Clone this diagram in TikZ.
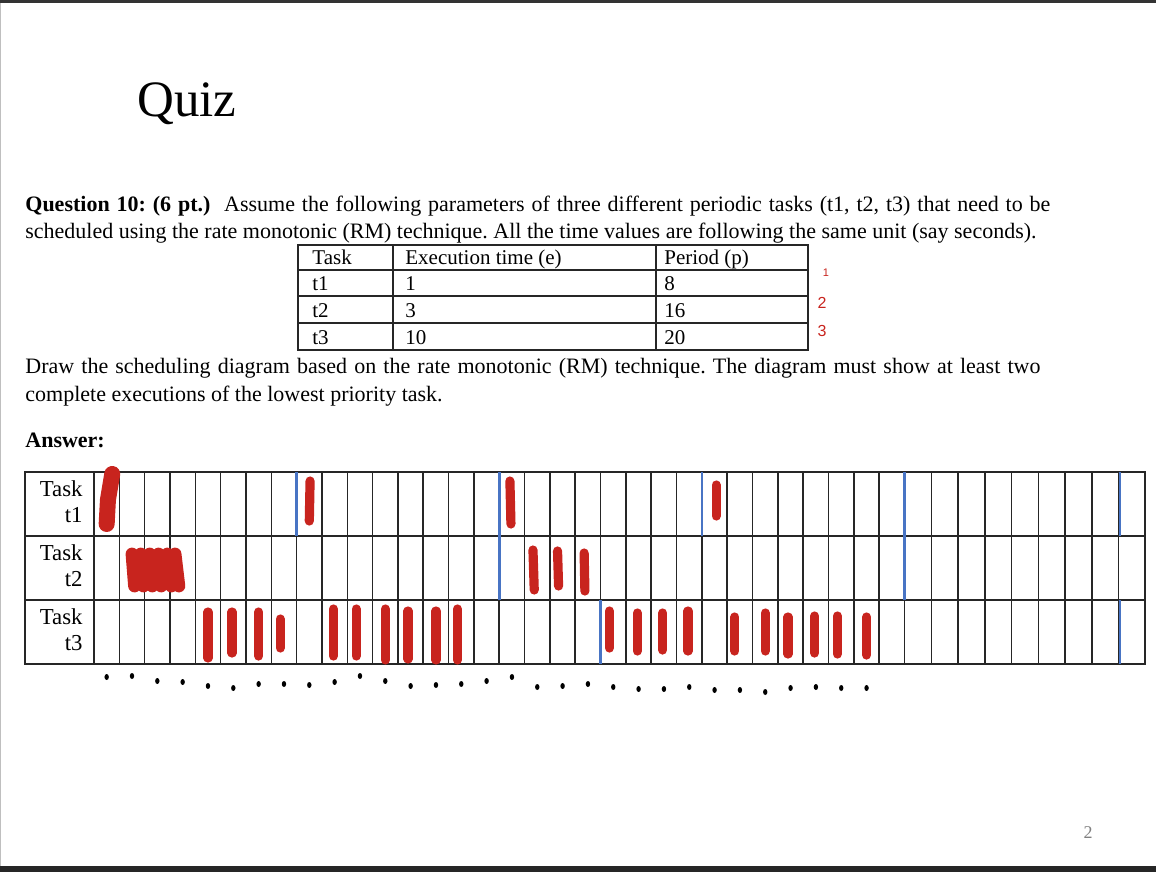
\documentclass[tikz,border=0pt]{standalone}
\usepackage{fontspec}
\setmainfont{Liberation Serif}
\newfontfamily\handfont{Liberation Sans}
\definecolor{inkred}{RGB}{200,36,30}
\definecolor{deadblue}{RGB}{72,116,196}
\frenchspacing

\begin{document}
\begin{tikzpicture}[
  x=0.5pt, y=-0.5pt,
  txt/.style={anchor=base west, inner sep=0pt, font=\fontsize{11}{13}\selectfont},
  cell/.style={anchor=base west, inner sep=0pt, font=\fontsize{10.5}{13}\selectfont},
  rowlbl/.style={anchor=east, align=right, inner sep=0pt, font=\fontsize{11.4}{13}\selectfont},
  prio/.style={anchor=base, inner sep=0pt, text=inkred, font=\handfont\fontsize{8}{9}\selectfont},
  gridline/.style={line width=0.8pt, draw=black!85},
  deadline/.style={line width=1.3pt, draw=deadblue},
  run/.style={line width=4.6pt, draw=inkred, line cap=round},
]
  \useasboundingbox (0,0) rectangle (1156,872);

  % Slide frame
  \fill[black!80] (0,0) rectangle (1156,3.5);
  \fill[black!85] (0,866) rectangle (1156,872);
  \draw[black!25, line width=0.6pt] (0.6,3.5) -- (0.6,866);
  \node[font=\fontsize{9}{10}\selectfont, text=black!50] (pagenum) at (1088,833) {2};

  % Title and question
  \node[txt, font=\fontsize{25.5}{30}\selectfont] (title) at (137,117) {Quiz};
  \node[txt] (q1) at (25,211) {\makebox[512.5pt][s]{\textbf{Question 10: (6 pt.)}\ \ Assume the
    following parameters of three different periodic tasks (t1, t2, t3) that need to be}};
  \node[txt] (q2) at (25,238) {scheduled using the rate monotonic (RM) technique. All the
    time values are following the same unit (say seconds).};

  % Parameter table
  \draw[gridline] (298,245) rectangle (808,350);
  \foreach \y in {270,296,323}
    \draw[gridline] (298,\y) -- (808,\y);
  \foreach \x in {393,656}
    \draw[gridline] (\x,245) -- (\x,350);
  \foreach \r/\y/\a/\b/\c in {hd/264/Task/Execution time (e)/Period (p),
      t1/290/t1/1/8, t2/317/t2/3/16, t3/344/t3/10/20} {
    \node[cell] (tab-\r-a) at (312,\y) {\a};
    \node[cell] (tab-\r-b) at (405,\y) {\b};
    \node[cell] (tab-\r-c) at (664,\y) {\c};
  }

  % Handwritten priorities
  \node[prio, font=\handfont\fontsize{5.5}{6}\selectfont] (p1) at (826,276) {1};
  \node[prio] (p2) at (822,308) {2};
  \node[prio] (p3) at (822,336) {3};

  \node[txt] (q3) at (25,373) {\makebox[507.5pt][s]{Draw the scheduling diagram based on the
    rate monotonic (RM) technique. The diagram must show at least two}};
  \node[txt] (q4) at (25,401) {complete executions of the lowest priority task.};
  \node[txt] (answer) at (25,447) {\textbf{Answer:}};

  % Row labels
  \node[rowlbl] (lbl1) at (83,502) {Task\\t1};
  \node[rowlbl] (lbl2) at (83,566) {Task\\t2};
  \node[rowlbl] (lbl3) at (83,630) {Task\\t3};

  % Time grid (one column per time unit, last columns a bit wider)
  \begin{scope}[shift={(94,0)}, x=12.665pt]
    \draw[gridline] (-2.725,472) rectangle (41.5,664);
    \draw[gridline] (-2.725,536) -- (41.5,536);
    \draw[gridline] (-2.725,600) -- (41.5,600);
    \foreach \t in {0,...,32}
      \draw[gridline] (\t,472) -- (\t,664);
    \foreach \t in {33,...,40}
      \draw[gridline] ({32+1.056*(\t-32)},472) -- ++(0,192);

    % Period boundaries
    \draw[deadline] (8,472) -- (8,536);
    \draw[deadline] (16,472) -- (16,600);
    \draw[deadline] (24,472) -- (24,536);
    \draw[deadline] (32,472) -- (32,600);
    \draw[deadline] (40.5,472) -- (40.5,536);
    \draw[deadline] (20,600) -- (20,664);
    \draw[deadline] (40.5,600) -- (40.5,664);

    % t1 runs
    \draw[run, line width=8pt] (0.72,474) -- (0.55,500) -- (0.5,524);
    \draw[run] (8.53,481) -- (8.5,521);
    \draw[run] (16.42,481) -- (16.46,524);
    \draw[run] (24.56,485) -- (24.56,516);

    % t2 runs
    \foreach \xa/\xb in {1.5/1.6, 1.85/1.95, 2.2/2.3, 2.55/2.65, 2.9/3.05, 3.2/3.35}
      \draw[run, line width=6.4pt] (\xa,554) -- (\xb,586);
    \draw[run] (17.33,550) -- (17.38,590);
    \draw[run] (18.3,551) -- (18.34,586);
    \draw[run] (19.35,553) -- (19.38,591);

    % t3 runs
    \foreach \c/\ya/\yb in {4.5/612/658, 5.45/612/653, 6.5/612/656, 7.35/619/648,
        9.45/609/656, 10.35/609/656, 11.5/609/660, 12.4/611/659, 13.5/611/660,
        14.35/609/660, 20.35/611/648, 21.45/613/651, 22.45/613/650, 23.45/611/651,
        25.3/617/651, 26.5/613/651, 27.4/617/654, 28.45/616/653, 29.35/616/654,
        30.5/617/655}
      \draw[run] (\c,\ya) -- (\c,\yb);

    % Time ticks under the grid
    \foreach \c/\y in {0/677, 1/676, 2/681, 3/682, 4/686, 5/688, 6/684, 7/684, 8/685,
        9/682, 10/676, 11/681, 12/686, 13/685, 14/684, 15/681, 16/677, 17/687,
        18/686, 19/684, 20/687, 21/689, 22/689, 23/687, 24/690, 25/690, 26/692,
        27/688, 28/687, 29/688, 30/688}
      \fill (\c+0.5,\y) ellipse[x radius=1.1pt, y radius=1.5pt];
  \end{scope}
\end{tikzpicture}
\end{document}
